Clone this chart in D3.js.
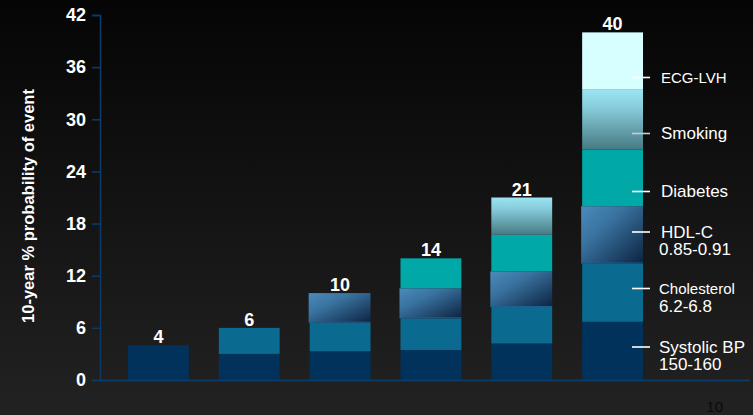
<!DOCTYPE html>
<html>
<head>
<meta charset="utf-8">
<script src="https://cdn.jsdelivr.net/npm/d3@7"></script>
<style>
  html, body { margin: 0; padding: 0; background: #111; }
  svg { display: block; font-family: "Liberation Sans", Arial, sans-serif; }
</style>
</head>
<body>
<svg id="chart" width="753" height="415"></svg>
<script>
// bar totals shown above each bar
let totals = [4, 6, 10, 14, 21, 40];

// risk factor increments, stacked bottom to top
let systolic    = [4, 3, 3.3, 3.45, 4.2, 6.7];
let cholesterol = [0, 3, 3.3, 3.65, 4.2, 6.7];
let hdl         = [0, 0, 3.4, 3.45, 4.1, 6.6];
let diabetes    = [0, 0, 0, 3.45, 4.2, 6.5];
let smoking     = [0, 0, 0, 0, 4.3, 6.9];
let ecg         = [0, 0, 0, 0, 0, 6.6];

let seriesKeys = ["systolic", "cholesterol", "hdl", "diabetes", "smoking", "ecg"];
let legendLines = [
    ["Systolic BP", "150-160"],
    ["Cholesterol", "6.2-6.8"],
    ["HDL-C", "0.85-0.91"],
    ["Diabetes"],
    ["Smoking"],
    ["ECG-LVH"]
];
let yTicks = [0, 6, 12, 18, 24, 30, 36, 42];
let yTitle = "10-year % probability of event";
let pageNo = "10";

let svg = d3.select("#chart"),
    width = 753,
    height = 415;

let defs = svg.append("defs");

let bg = defs.append("linearGradient").attr("id", "bg")
    .attr("x1", 0).attr("y1", 0).attr("x2", 0).attr("y2", 1);
bg.append("stop").attr("offset", "0%").attr("stop-color", "#050505");
bg.append("stop").attr("offset", "100%").attr("stop-color", "#222222");

let hdlGrad = defs.append("linearGradient").attr("id", "hdlGrad")
    .attr("x1", 0).attr("y1", 0).attr("x2", 1).attr("y2", 1);
hdlGrad.append("stop").attr("offset", "0%").attr("stop-color", "#4a8bbb");
hdlGrad.append("stop").attr("offset", "35%").attr("stop-color", "#3a73a0");
hdlGrad.append("stop").attr("offset", "100%").attr("stop-color", "#0c2340");

let smokeGrad = defs.append("linearGradient").attr("id", "smokeGrad")
    .attr("x1", 0).attr("y1", 0).attr("x2", 0).attr("y2", 1);
smokeGrad.append("stop").attr("offset", "0%").attr("stop-color", "#9be4f2");
smokeGrad.append("stop").attr("offset", "30%").attr("stop-color", "#87ccdb");
smokeGrad.append("stop").attr("offset", "100%").attr("stop-color", "#467a82");

let fills = {
    systolic: "#00325c",
    cholesterol: "#0a6a90",
    hdl: "url(#hdlGrad)",
    diabetes: "#00a8a8",
    smoking: "url(#smokeGrad)",
    ecg: "#d8ffff"
};

svg.append("rect")
    .attr("width", width)
    .attr("height", height)
    .attr("fill", "url(#bg)");

let x = d3.scaleBand()
    .domain(d3.range(totals.length))
    .range([113, 658])
    .paddingInner(0.33)
    .paddingOuter(0.165);

let y = d3.scaleLinear()
    .domain([0, 42])
    .range([380, 15]);

let table = totals.map(function(t, i) {
    return {
        systolic: systolic[i],
        cholesterol: cholesterol[i],
        hdl: hdl[i],
        diabetes: diabetes[i],
        smoking: smoking[i],
        ecg: ecg[i]
    };
});

let stacked = d3.stack().keys(seriesKeys)(table);

// y axis
let yAxis = svg.append("g")
    .attr("transform", "translate(100,0)")
    .call(d3.axisLeft(y).tickValues(yTicks).tickSize(8).tickPadding(6));
yAxis.select(".domain").attr("stroke", "#0b3a66").attr("stroke-width", 1.6);
yAxis.selectAll(".tick line").attr("stroke", "#0b3a66").attr("stroke-width", 1.6);
yAxis.selectAll(".tick text")
    .attr("fill", "#ffffff")
    .style("font-family", "'Liberation Sans', Arial, sans-serif")
    .style("font-size", "18px")
    .style("font-weight", "bold");

svg.append("text")
    .attr("transform", "translate(34,206) rotate(-90)")
    .attr("text-anchor", "middle")
    .attr("fill", "#ffffff")
    .style("font-size", "16.5px")
    .style("font-weight", "bold")
    .text(yTitle);

// bars
let layers = svg.append("g").attr("class", "bars")
    .selectAll("g")
    .data(stacked)
    .enter().append("g")
    .attr("fill", function(d) { return fills[d.key]; });

layers.selectAll("rect")
    .data(function(d) {
        return d.map(function(p, i) { return { p: p, i: i, key: d.key }; })
            .filter(function(e) { return e.p[1] - e.p[0] > 0; });
    })
    .enter().append("rect")
    .attr("x", function(e) { return x(e.i) - (e.key === "hdl" ? 1 : 0); })
    .attr("width", function(e) { return x.bandwidth() + (e.key === "hdl" ? 1 : 0); })
    .attr("y", function(e) { return y(e.p[1]); })
    .attr("height", function(e) { return y(e.p[0]) - y(e.p[1]); });

// thin border under hdl segments
svg.append("g")
    .selectAll("line")
    .data(stacked[2].map(function(p, i) { return { p: p, i: i }; })
        .filter(function(e) { return e.p[1] - e.p[0] > 0; }))
    .enter().append("line")
    .attr("x1", function(e) { return x(e.i) - 1; })
    .attr("x2", function(e) { return x(e.i) + x.bandwidth(); })
    .attr("y1", function(e) { return y(e.p[0]) - 0.5; })
    .attr("y2", function(e) { return y(e.p[0]) - 0.5; })
    .attr("stroke", "#1f5f8f")
    .attr("stroke-width", 1);

// baseline
svg.append("line")
    .attr("x1", 100).attr("x2", 750)
    .attr("y1", y(0) + 0.5).attr("y2", y(0) + 0.5)
    .attr("stroke", "#0b3a66")
    .attr("stroke-width", 2);

// totals
svg.append("g")
    .selectAll("text")
    .data(totals)
    .enter().append("text")
    .attr("x", function(d, i) { return x(i) + x.bandwidth() / 2; })
    .attr("y", function(d) { return y(d) - 2; })
    .attr("text-anchor", "middle")
    .attr("fill", "#ffffff")
    .style("font-size", "18px")
    .style("font-weight", "bold")
    .text(function(d) { return d; });

// legend next to last bar
let legendY = [347, 288.5, 232, 191.5, 133.5, 77.5];
let legendSize = [[17, 17], [15, 17], [17, 17], [17], [17], [15]];
let legend = svg.append("g")
    .selectAll("g")
    .data(legendLines)
    .enter().append("g")
    .attr("transform", function(d, i) { return "translate(0," + legendY[i] + ")"; });

legend.append("line")
    .attr("x1", 632).attr("x2", 650)
    .attr("y1", 0).attr("y2", 0)
    .attr("stroke", function(d, i) { return i === 4 ? "#cccccc" : "#ffffff"; })
    .attr("stroke-width", 1.6);

legend.each(function(lines, i) {
    let g = d3.select(this);
    lines.forEach(function(s, j) {
        g.append("text")
            .attr("x", j === 0 && i >= 2 ? 661 : 659)
            .attr("y", j * 17.5)
            .attr("dy", "0.35em")
            .attr("fill", "#ffffff")
            .style("font-size", legendSize[i][j] + "px")
            .text(s);
    });
});

svg.append("text")
    .attr("x", 723)
    .attr("y", 412)
    .attr("text-anchor", "end")
    .attr("fill", "#0a0a0a")
    .style("font-size", "15px")
    .text(pageNo);
</script>
</body>
</html>
